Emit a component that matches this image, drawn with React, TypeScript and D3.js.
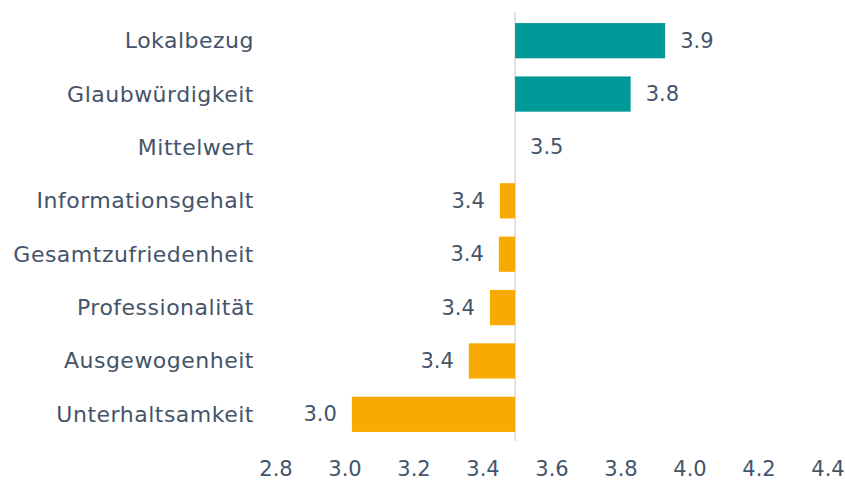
import React from "react";
import * as d3 from "d3";

const categories = [
  "Lokalbezug",
  "Glaubwürdigkeit",
  "Mittelwert",
  "Informationsgehalt",
  "Gesamtzufriedenheit",
  "Professionalität",
  "Ausgewogenheit",
  "Unterhaltsamkeit",
];
const values = [3.928, 3.828, 3.493, 3.449, 3.446, 3.42, 3.359, 3.02];
const meanValue = 3.493;
const xTicks = [2.8, 3.0, 3.2, 3.4, 3.6, 3.8, 4.0, 4.2, 4.4];

const W = 845;
const H = 482;
const TEXT = "#44546A";
const TEAL = "#009999";
const ORANGE = "#F7AB00";
const FONT = "'Century Gothic', 'DejaVu Sans', sans-serif";

export default function App() {
  const x = d3.scaleLinear().domain([2.8, 4.4]).range([276, 828]);
  const y = d3
    .scaleBand<string>()
    .domain(categories)
    .range([14, 441])
    .paddingInner(0.34)
    .paddingOuter(0.17);
  const fmt = d3.format(".1f");
  const base = x(meanValue);

  return (
    <svg
      width={W}
      height={H}
      style={{ position: "absolute", left: 0, top: 0, background: "#fff" }}
      fontFamily={FONT}
    >
      <line x1={base} x2={base} y1={12} y2={441} stroke="#D9D9D9" strokeWidth={1.5} />
      {categories.map((c, i) => {
        const v = values[i];
        const x0 = Math.min(x(v), base);
        const w = Math.abs(x(v) - base);
        const yc = (y(c) as number) + y.bandwidth() / 2;
        const above = v >= meanValue;
        return (
          <g key={c}>
            {w > 0.5 && (
              <rect
                x={x0}
                y={y(c)}
                width={w}
                height={y.bandwidth()}
                fill={above ? TEAL : ORANGE}
              />
            )}
            <text
              x={254}
              y={yc}
              textAnchor="end"
              dominantBaseline="central"
              fontSize={22}
              letterSpacing={0.5}
              fill={TEXT}
            >
              {c}
            </text>
            <text
              x={above ? Math.max(x(v), base) + 15 : x(v) - 15}
              y={yc}
              textAnchor={above ? "start" : "end"}
              dominantBaseline="central"
              fontSize={21}
              fill={TEXT}
            >
              {fmt(v)}
            </text>
          </g>
        );
      })}
      {xTicks.map((t) => (
        <text
          key={t}
          x={x(t)}
          y={469}
          textAnchor="middle"
          dominantBaseline="central"
          fontSize={21}
          fill={TEXT}
        >
          {fmt(t)}
        </text>
      ))}
    </svg>
  );
}
